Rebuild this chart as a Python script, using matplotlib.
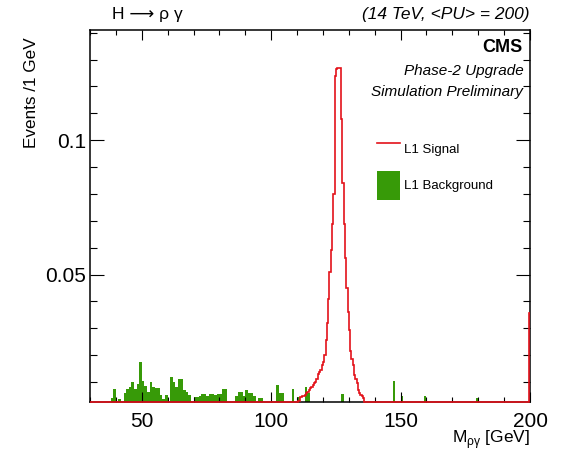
# -*- coding: UTF-8 -*-
import numpy as np
import matplotlib
matplotlib.use("Agg")
import matplotlib.pyplot as plt
from matplotlib.ticker import FixedLocator, MultipleLocator
from matplotlib.patches import Patch
from matplotlib.lines import Line2D

plt.rcParams['font.family'] = ['Liberation Sans', 'DejaVu Sans']
plt.rcParams['mathtext.fontset'] = 'custom'
plt.rcParams['mathtext.rm'] = 'Liberation Sans'

# L1 signal, 0.5 GeV bins (bin centres, events / 1 GeV)
sig_mass = [109.75, 110.25, 110.75, 111.25, 111.75, 112.25, 112.75, 113.25,
            113.75, 114.25, 114.75, 115.25, 115.75, 116.25, 116.75, 117.25,
            117.75, 118.25, 118.75, 119.25, 119.75, 120.25, 120.75, 121.25,
            121.75, 122.25, 122.75, 123.25, 123.75, 124.25, 124.75, 125.25,
            125.75, 126.25, 126.75, 127.25, 127.75, 128.25, 128.75, 129.25,
            129.75, 130.25, 130.75, 131.25, 131.75, 132.25, 132.75, 133.25,
            133.75, 134.25, 134.75, 135.25, 135.75, 136.25, 136.75, 199.75]
sig_weight = [0.0015, 0.0020, 0.0030, 0.0044, 0.0046, 0.0048, 0.0050, 0.0052,
              0.0060, 0.0065, 0.0071, 0.0077, 0.0083, 0.0090, 0.0095, 0.0102,
              0.0110, 0.0132, 0.0138, 0.0145, 0.0164, 0.0175, 0.0201, 0.0257,
              0.0320, 0.0410, 0.0510, 0.0590, 0.0690, 0.0800, 0.1240, 0.1265,
              0.1270, 0.1270, 0.1270, 0.1080, 0.0840, 0.0690, 0.0560, 0.0450,
              0.0360, 0.0295, 0.0215, 0.0185, 0.0164, 0.0125, 0.0110, 0.0095,
              0.0071, 0.0058, 0.0052, 0.0048, 0.0040, 0.0027, 0.0020, 0.0357]

# L1 background, 1 GeV bins (bin centres, events / 1 GeV)
bg_mass = [38.5, 39.5, 41.5, 43.5, 44.5, 45.5, 46.5, 47.5, 48.5, 49.5,
           50.5, 51.5, 52.5, 53.5, 54.5, 55.5, 56.5, 57.5, 58.5, 59.5,
           61.5, 62.5, 63.5, 64.5, 65.5, 66.5, 67.5, 68.5, 70.5, 71.5,
           72.5, 73.5, 74.5, 75.5, 76.5, 77.5, 78.5, 79.5, 80.5, 81.5,
           82.5, 86.5, 87.5, 88.5, 89.5, 90.5, 91.5, 92.5, 93.5, 95.5,
           96.5, 102.5, 103.5, 104.5, 108.5, 110.5, 113.5, 114.5, 127.5, 147.5,
           150.5, 159.5, 179.5]
bg_weight = [0.0040, 0.0073, 0.0036, 0.0061, 0.0073, 0.0083, 0.0102, 0.0073, 0.0092, 0.0174,
             0.0105, 0.0086, 0.0065, 0.0102, 0.0083, 0.0079, 0.0079, 0.0052, 0.0036, 0.0052,
             0.0118, 0.0099, 0.0083, 0.0110, 0.0110, 0.0071, 0.0065, 0.0052, 0.0043, 0.0043,
             0.0048, 0.0056, 0.0056, 0.0048, 0.0056, 0.0056, 0.0052, 0.0056, 0.0056, 0.0073,
             0.0073, 0.0048, 0.0062, 0.0062, 0.0048, 0.0071, 0.0058, 0.0058, 0.0048, 0.0040,
             0.0040, 0.0089, 0.0058, 0.0058, 0.0073, 0.0043, 0.0081, 0.0058, 0.0056, 0.0104,
             0.0048, 0.0048, 0.0040]

xmin, xmax = 30., 200.
ymin, ymax = 0.0026, 0.1411

red = '#e3121a'
green = '#379a08'

sig_edges = np.arange(xmin, xmax + 0.25, 0.5)
bg_edges = np.arange(xmin, xmax + 0.5, 1.0)
sig, _ = np.histogram(sig_mass, bins=sig_edges, weights=sig_weight)
bg, _ = np.histogram(bg_mass, bins=bg_edges, weights=bg_weight)

fig = plt.figure(figsize=(5.61, 4.59), dpi=100)
ax = fig.add_axes([90/561., 1 - 402/459., 440/561., 372.3/459.])

ax.stairs(bg, bg_edges, fill=True, color=green, linewidth=0, zorder=1)
# empty bins sit on the frame, as in a ROOT step histogram
ax.stairs(np.maximum(sig, ymin), sig_edges, baseline=None, color=red,
          linewidth=1.2, zorder=3, clip_on=False)

ax.set_xlim(xmin, xmax)
ax.set_ylim(ymin, ymax)

ax.xaxis.set_major_locator(FixedLocator([50, 100, 150, 200]))
ax.xaxis.set_minor_locator(MultipleLocator(10))
ax.yaxis.set_major_locator(FixedLocator([0.05, 0.1]))
ax.yaxis.set_minor_locator(MultipleLocator(0.01))
ax.set_yticklabels(['0.05', '0.1'])
ax.set_xticklabels(['50', '100', '150', '200'])

ax.tick_params(which='both', direction='in', top=True, right=True,
               width=0.8, labelsize=15)
ax.tick_params(axis='x', which='major', length=7.2, pad=7)
ax.tick_params(axis='x', which='minor', length=3.8)
ax.tick_params(axis='y', which='major', length=10, pad=3)
ax.tick_params(axis='y', which='minor', length=5)
for s in ax.spines.values():
    s.set_linewidth(1.1)

fig.text(31/561., 1 - 37/459., 'Events /1 GeV', rotation=90, ha='center',
         va='top', fontsize=12.3)
fig.text(530/561., 1 - 440/459., 'M$_{\\mathregular{ργ}}$ [GeV]', ha='right',
         va='center', fontsize=12.5)

fig.text(112/561., 1 - 15/459., 'H ⟶ ρ γ', ha='left', va='center',
         fontsize=12.5)
fig.text(530/561., 1 - 15/459., '(14 TeV, <PU> = 200)', ha='right', va='center',
         fontsize=12.5, style='italic')

ax.text(0.984, 0.951, 'CMS', transform=ax.transAxes, ha='right', va='center',
        fontsize=13, fontweight='bold')
ax.text(0.986, 0.889, 'Phase-2 Upgrade', transform=ax.transAxes, ha='right',
        va='center', fontsize=11, style='italic')
ax.text(0.984, 0.833, 'Simulation Preliminary', transform=ax.transAxes,
        ha='right', va='center', fontsize=11, style='italic')

handles = [Line2D([], [], color=red, linewidth=1.2),
           Patch(facecolor=green, edgecolor='none')]
ax.legend(handles, ['L1 Signal', 'L1 Background'], loc='upper left',
          bbox_to_anchor=(0.652, 0.7197), frameon=False, fontsize=9.5,
          handlelength=1.75, handleheight=3.07, labelspacing=0.55,
          handletextpad=0.3, borderpad=0, borderaxespad=0)

fig.savefig('out.png', dpi=100)
